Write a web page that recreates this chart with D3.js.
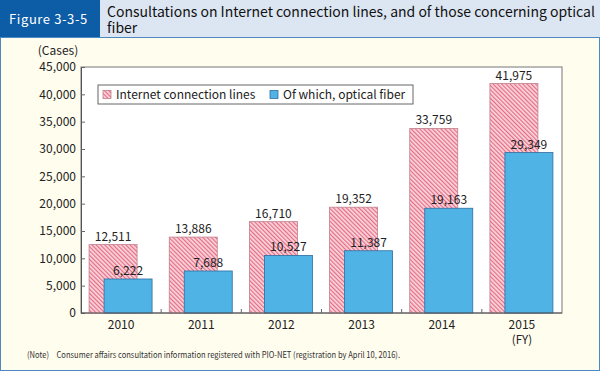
<!DOCTYPE html>
<html>
<head>
<meta charset="utf-8">
<script src="https://cdn.jsdelivr.net/npm/d3@7"></script>
<style>
  body { margin: 0; background: #fff; }
  svg text { font-family: "Noto Sans CJK JP", "Noto Sans", sans-serif; fill: #222; }
</style>
</head>
<body>
<svg id="chart" width="600" height="372"></svg>
<script>
// data
var years = ["2010", "2011", "2012", "2013", "2014", "2015"];
var internetLines = [12511, 13886, 16710, 19352, 33759, 41975];
var opticalFiber = [6222, 7688, 10527, 11387, 19163, 29349];
var yTicks = [0, 5000, 10000, 15000, 20000, 25000, 30000, 35000, 40000, 45000];
var seriesNames = ["Internet connection lines", "Of which, optical fiber"];

var width = 600, height = 372;
var svg = d3.select("#chart");

// pattern for the hatched bars
var defs = svg.append("defs");
var pat = defs.append("pattern")
    .attr("id", "hatch")
    .attr("patternUnits", "userSpaceOnUse")
    .attr("width", 3)
    .attr("height", 3)
    .attr("patternTransform", "rotate(-45)");
pat.append("rect").attr("width", 3).attr("height", 3).attr("fill", "#fbd6dc");
pat.append("rect").attr("width", 1.2).attr("height", 3).attr("fill", "#e36c86");

// background and frame
svg.append("rect")
    .attr("x", 0.5).attr("y", 0.5)
    .attr("width", width - 1).attr("height", height - 2)
    .attr("fill", "#fffdee")
    .attr("stroke", "#4d8ac4");

// header
svg.append("rect").attr("x", 0).attr("y", 0).attr("width", width).attr("height", 37).attr("fill", "#dce6f2");
svg.append("rect").attr("x", 0).attr("y", 0).attr("width", 100).attr("height", 37).attr("fill", "#0d5ca6");
svg.append("line").attr("x1", 0).attr("x2", width).attr("y1", 37.5).attr("y2", 37.5).attr("stroke", "#4d8ac4");

svg.append("text")
    .attr("x", 9).attr("y", 24)
    .style("font-size", "13px")
    .style("letter-spacing", "0.6px")
    .style("fill", "#fff")
    .text("Figure 3-3-5");

var title = svg.append("text")
    .style("font-size", "14px")
    .style("fill", "#111");
title.append("tspan").attr("x", 107).attr("y", 17).text("Consultations on Internet connection lines, and of those concerning optical");
title.append("tspan").attr("x", 107).attr("y", 33).text("fiber");

// plot area
var margin = {left: 81, right: 38, top: 67, bottom: 59};
var plotW = width - margin.left - margin.right,
    plotH = height - margin.top - margin.bottom;

var g = svg.append("g")
    .attr("transform", "translate(" + margin.left + "," + margin.top + ")");

var x = d3.scaleBand()
    .domain(years)
    .range([0, plotW]);

var y = d3.scaleLinear()
    .domain([0, 45000])
    .range([plotH, 0]);

// frame: top and right edges
g.append("rect")
    .attr("x", 0).attr("y", 0)
    .attr("width", plotW).attr("height", plotH)
    .attr("fill", "#fff")
    .attr("stroke", "#777")
    .attr("stroke-width", 1);

// y axis
var yAxis = g.append("g")
    .attr("class", "y axis")
    .call(d3.axisLeft(y).tickValues(yTicks).tickSizeInner(-4).tickSizeOuter(0).tickPadding(5)
        .tickFormat(d3.format(",")));
yAxis.select(".domain").attr("stroke", "#555");
yAxis.selectAll(".tick line").attr("stroke", "#666");
yAxis.selectAll("text").style("font-size", "12px").attr("fill", "#222");

svg.append("text")
    .attr("x", 58).attr("y", 55)
    .attr("text-anchor", "middle")
    .style("font-size", "12px")
    .text("(Cases)");

// bars
var barW = 48;
var pinkOff = -32, blueOff = -17;

var groups = g.selectAll(".year")
    .data(years)
    .enter().append("g")
    .attr("class", "year")
    .attr("transform", function(d) { return "translate(" + (x(d) + x.bandwidth() / 2) + ",0)"; });

groups.append("rect")
    .attr("x", pinkOff)
    .attr("y", function(d, i) { return y(internetLines[i]); })
    .attr("width", barW)
    .attr("height", function(d, i) { return plotH - y(internetLines[i]); })
    .attr("fill", "url(#hatch)")
    .attr("stroke", "#c07f8c")
    .attr("stroke-width", 0.8);

groups.append("rect")
    .attr("x", blueOff)
    .attr("y", function(d, i) { return y(opticalFiber[i]); })
    .attr("width", barW)
    .attr("height", function(d, i) { return plotH - y(opticalFiber[i]); })
    .attr("fill", "#50b3e6")
    .attr("stroke", "#2f6d9e")
    .attr("stroke-width", 0.8);

groups.append("text")
    .attr("x", pinkOff + barW / 2)
    .attr("y", function(d, i) { return y(internetLines[i]) - 4; })
    .attr("text-anchor", "middle")
    .style("font-size", "12px")
    .text(function(d, i) { return d3.format(",")(internetLines[i]); });

groups.append("text")
    .attr("x", blueOff + barW / 2)
    .attr("y", function(d, i) { return y(opticalFiber[i]) - 4; })
    .attr("text-anchor", "middle")
    .style("font-size", "12px")
    .text(function(d, i) { return d3.format(",")(opticalFiber[i]); });

// x axis with separators between the years
var xAxis = g.append("g")
    .attr("class", "x axis")
    .attr("transform", "translate(0," + plotH + ")");
xAxis.append("line")
    .attr("x1", 0).attr("x2", plotW)
    .attr("stroke", "#555");
xAxis.selectAll(".sep")
    .data(years.slice(1))
    .enter().append("line")
    .attr("class", "sep")
    .attr("x1", function(d) { return x(d); })
    .attr("x2", function(d) { return x(d); })
    .attr("y1", 0).attr("y2", -4)
    .attr("stroke", "#666");
xAxis.selectAll(".lbl")
    .data(years)
    .enter().append("text")
    .attr("class", "lbl")
    .attr("x", function(d) { return x(d) + x.bandwidth() / 2; })
    .attr("y", 16)
    .attr("text-anchor", "middle")
    .style("font-size", "12px")
    .text(function(d) { return d; });
xAxis.append("text")
    .attr("x", x("2015") + x.bandwidth() / 2)
    .attr("y", 31)
    .attr("text-anchor", "middle")
    .style("font-size", "11.5px")
    .text("(FY)");

// legend
var legend = svg.append("g").attr("transform", "translate(98,85)");
legend.append("rect")
    .attr("width", 315).attr("height", 19)
    .attr("fill", "#fff")
    .attr("stroke", "#666");
var legX = [5, 172];
seriesNames.forEach(function(name, i) {
    legend.append("rect")
        .attr("x", legX[i]).attr("y", 5.5)
        .attr("width", 8).attr("height", 8)
        .attr("fill", i === 0 ? "url(#hatch)" : "#50b3e6")
        .attr("stroke", i === 0 ? "#c07f8c" : "#2f6d9e")
        .attr("stroke-width", 0.8);
    legend.append("text")
        .attr("x", legX[i] + 13).attr("y", 14)
        .style("font-size", "12px")
        .text(name);
});

// note
svg.append("text")
    .attr("x", 27).attr("y", 358)
    .attr("textLength", 373)
    .attr("lengthAdjust", "spacingAndGlyphs")
    .style("font-size", "8.5px")
    .style("fill", "#333")
    .text("(Note)　Consumer affairs consultation information registered with PIO-NET (registration by April 10, 2016).");
</script>
</body>
</html>
